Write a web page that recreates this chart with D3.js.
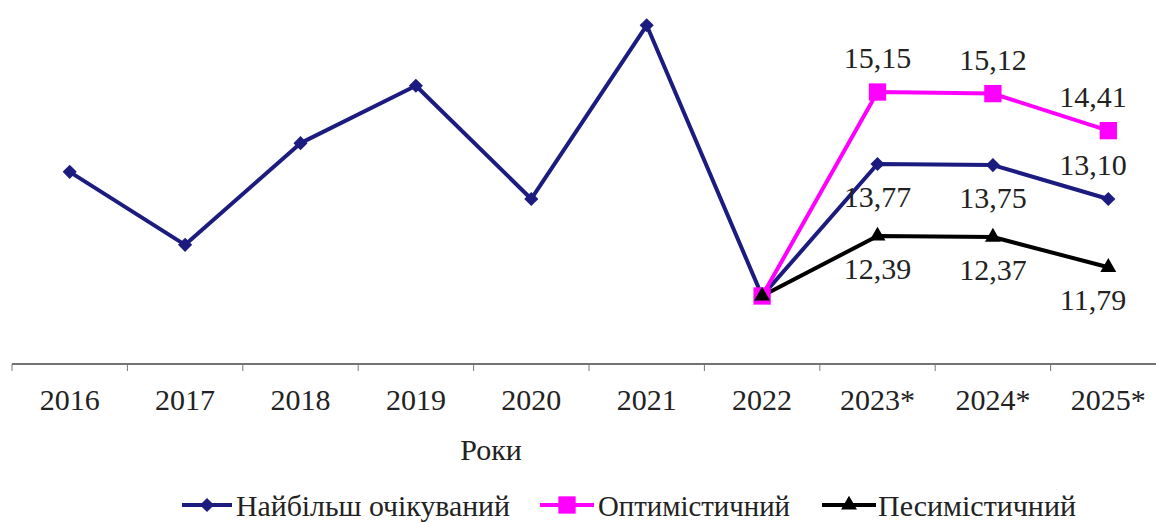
<!DOCTYPE html>
<html><head><meta charset="utf-8">
<script src="https://cdn.jsdelivr.net/npm/d3@7"></script>
<style>html,body{margin:0;padding:0;background:#fff;}svg{display:block;}</style>
</head><body><svg id="c" width="1156" height="522"></svg>
<script>
const categories = ["2016","2017","2018","2019","2020","2021","2022","2023*","2024*","2025*"];
const seriesNames = ["Найбільш очікуваний","Оптимістичний","Песимістичний"];
const mainValues = [13.62,12.22,14.17,15.27,13.10,16.43,11.24,13.77,13.75,13.10];
const optimisticValues = [null,null,null,null,null,null,11.24,15.15,15.12,14.41];
const pessimisticValues = [null,null,null,null,null,null,11.24,12.39,12.37,11.79];
const labeledFrom = 7; // forecast years carry value labels
const axisTitle = "Роки";

const FONT = "Liberation Serif";
const colors = ["#1c1c80","#ff00ff","#000000"];
const labelSide = [["below","below","above"],["above","above","above"],["below","below","below"]];

const svg = d3.select("#c");
const x = d3.scaleBand().domain(categories).range([12,1166]).padding(0);
const y = d3.scaleLinear().domain([11,16]).range([308.5,47.7]);
const cx = d => x(d) + x.bandwidth()/2;

// axis
const axisY = 364;
svg.append("line").attr("x1",12).attr("x2",1156).attr("y1",axisY).attr("y2",axisY)
  .attr("stroke","#444").attr("stroke-width",1.5);
svg.selectAll("line.tick").data(categories).enter().append("line")
  .attr("x1",d=>x(d)).attr("x2",d=>x(d)).attr("y1",axisY).attr("y2",axisY+7)
  .attr("stroke","#777").attr("stroke-width",1);
svg.selectAll("text.cat").data(categories).enter().append("text")
  .attr("x",d=>cx(d)).attr("y",410).attr("text-anchor","middle")
  .style("font-family",FONT).style("font-size","30px").style("fill","#222")
  .text(d=>d);
svg.append("text").attr("x",491).attr("y",460).attr("text-anchor","middle")
  .style("font-family",FONT).style("font-size","30px").style("fill","#222").text(axisTitle);

const series = [mainValues, optimisticValues, pessimisticValues];
const line = d3.line().defined(d=>d.v!=null).x(d=>cx(d.c)).y(d=>y(d.v));
const symbols = [d3.symbolSquare, d3.symbolSquare, d3.symbolTriangle];
const symSizes = [100, 300, 110];
const rot = i => i===0 ? " rotate(45)" : "";

series.forEach((vals,i)=>{
  const pts = vals.map((v,j)=>({c:categories[j],v}));
  svg.append("path").datum(pts).attr("d",line).attr("fill","none")
    .attr("stroke",colors[i]).attr("stroke-width",4).attr("stroke-linejoin","round");
});
series.forEach((vals,i)=>{
  const pts = vals.map((v,j)=>({c:categories[j],v})).filter(d=>d.v!=null);
  svg.selectAll(null).data(pts).enter().append("path")
    .attr("d",d3.symbol().type(symbols[i]).size(symSizes[i]))
    .attr("transform",d=>`translate(${cx(d.c)},${y(d.v)})`+rot(i))
    .attr("fill",colors[i]);
});
// value labels
series.forEach((vals,i)=>{
  vals.forEach((v,j)=>{
    if(j<labeledFrom||v==null) return;
    const side = labelSide[i][j-labeledFrom];
    let px = Math.min(cx(categories[j]), 1093);
    const py = side==="above" ? y(v)-24 : y(v)+43;
    svg.append("text").attr("x",px).attr("y",py).attr("text-anchor","middle")
      .style("font-family",FONT).style("font-size","30px").style("fill","#222")
      .text(d3.format(".2f")(v).replace(".",","));
  });
});
// legend
const legend = [{x0:182,x1:232,tx:236,tw:274},{x0:540,x1:594,tx:598,tw:192},{x0:822,x1:876,tx:878,tw:198}];
const ly = 505;
legend.forEach((l,i)=>{
  svg.append("line").attr("x1",l.x0).attr("x2",l.x1).attr("y1",ly).attr("y2",ly)
    .attr("stroke",colors[i]).attr("stroke-width",4);
  svg.append("path").attr("d",d3.symbol().type(symbols[i]).size(symSizes[i]))
    .attr("transform",`translate(${(l.x0+l.x1)/2},${ly})`+rot(i))
    .attr("fill",colors[i]);
  svg.append("text").attr("x",l.tx).attr("y",ly+11)
    .style("font-family",FONT).style("font-size","30px").style("fill","#222")
    .attr("textLength",l.tw).attr("lengthAdjust","spacingAndGlyphs")
    .text(seriesNames[i]);
});
</script></body></html>
